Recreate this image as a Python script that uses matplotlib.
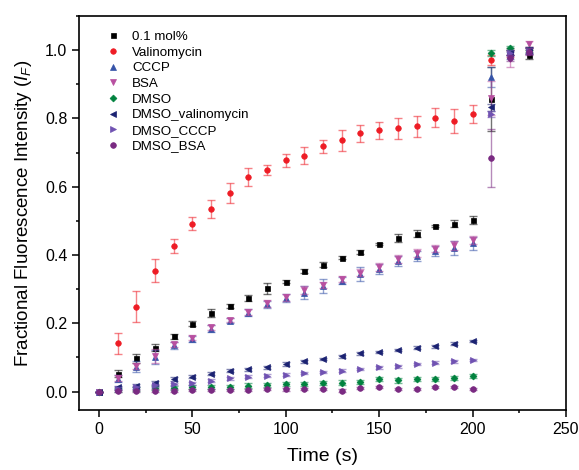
import matplotlib
matplotlib.use('Agg')
from matplotlib import pyplot as plt
from matplotlib.ticker import MultipleLocator, AutoMinorLocator

plt.rcParams['font.family'] = ['Liberation Sans', 'DejaVu Sans']
plt.rcParams['mathtext.fontset'] = 'custom'
plt.rcParams['mathtext.rm'] = 'Liberation Sans'
plt.rcParams['mathtext.it'] = 'Liberation Sans:italic'

#Sampling times (s)
time_s = [0, 10, 20, 30, 40, 50, 60, 70, 80, 90, 100, 110, 120, 130, 140,
          150, 160, 170, 180, 190, 200, 210, 220, 230]

#Fractional fluorescence intensity per condition, with errors
mol_01 = [0, 0.052, 0.097, 0.128, 0.162, 0.199, 0.230, 0.250, 0.274, 0.302, 0.322, 0.353,
          0.372, 0.392, 0.408, 0.432, 0.450, 0.462, 0.485, 0.491, 0.502, 0.857, 0.995, 0.987]
mol_01_err = [0, 0.010, 0.012, 0.010, 0.008, 0.008, 0.012, 0.006, 0.008, 0.015, 0.005, 0.007,
              0.006, 0.005, 0.006, 0.004, 0.012, 0.010, 0.004, 0.010, 0.012, 0.093, 0.010, 0.012]

valinomycin = [0, 0.141, 0.249, 0.354, 0.426, 0.491, 0.535, 0.582, 0.628, 0.649, 0.677, 0.690,
               0.718, 0.736, 0.756, 0.765, 0.771, 0.777, 0.802, 0.793, 0.813, 0.972, 0.990, 0.998]
valinomycin_err = [0, 0.030, 0.046, 0.033, 0.020, 0.019, 0.026, 0.030, 0.027, 0.015, 0.020, 0.025,
                   0.020, 0.030, 0.025, 0.025, 0.030, 0.030, 0.028, 0.035, 0.025, 0.015, 0.010, 0.010]

cccp = [0, 0.037, 0.073, 0.102, 0.136, 0.154, 0.184, 0.208, 0.231, 0.255, 0.273, 0.290,
        0.309, 0.325, 0.344, 0.358, 0.382, 0.398, 0.412, 0.420, 0.434, 0.922, 0.985, 1.000]
cccp_err = [0, 0.010, 0.015, 0.020, 0.010, 0.010, 0.010, 0.006, 0.010, 0.010, 0.012, 0.020,
            0.020, 0.010, 0.020, 0.015, 0.015, 0.015, 0.015, 0.020, 0.020, 0.030, 0.010, 0.010]

bsa = [0, 0.040, 0.075, 0.105, 0.138, 0.158, 0.188, 0.210, 0.233, 0.258, 0.276, 0.297,
       0.312, 0.330, 0.348, 0.364, 0.388, 0.405, 0.418, 0.428, 0.444, 0.859, 0.973, 1.017]
bsa_err = [0, 0.008, 0.008, 0.020, 0.008, 0.008, 0.008, 0.006, 0.008, 0.010, 0.010, 0.012,
           0.010, 0.008, 0.010, 0.012, 0.012, 0.012, 0.010, 0.012, 0.012, 0.050, 0.023, 0.010]

dmso = [0, 0.005, 0.008, 0.010, 0.011, 0.012, 0.014, 0.014, 0.017, 0.020, 0.022, 0.022,
        0.024, 0.026, 0.029, 0.036, 0.033, 0.036, 0.037, 0.040, 0.045, 0.992, 1.007, 1.000]
dmso_err = [0, 0.005, 0.005, 0.006, 0.006, 0.006, 0.006, 0.006, 0.007, 0.006, 0.006, 0.007,
            0.006, 0.007, 0.006, 0.006, 0.007, 0.006, 0.007, 0.006, 0.005, 0.008, 0.006, 0.006]

dmso_val = [0, 0.012, 0.017, 0.026, 0.037, 0.044, 0.052, 0.061, 0.065, 0.071, 0.081, 0.088,
            0.095, 0.103, 0.112, 0.116, 0.122, 0.128, 0.133, 0.140, 0.148, 0.832, 0.993, 1.000]
dmso_val_err = [0, 0.005, 0.005, 0.006, 0.005, 0.005, 0.005, 0.005, 0.005, 0.005, 0.005, 0.005,
                0.004, 0.004, 0.004, 0.004, 0.004, 0.004, 0.004, 0.004, 0.004, 0.010, 0.008, 0.008]

dmso_cccp = [0, 0.008, 0.012, 0.018, 0.022, 0.024, 0.032, 0.039, 0.043, 0.046, 0.049, 0.054,
             0.057, 0.061, 0.066, 0.071, 0.074, 0.081, 0.084, 0.089, 0.092, 0.813, 0.993, 0.998]
dmso_cccp_err = [0, 0.004, 0.004, 0.004, 0.004, 0.004, 0.004, 0.004, 0.004, 0.004, 0.004, 0.004,
                 0.004, 0.004, 0.004, 0.004, 0.004, 0.004, 0.004, 0.004, 0.004, 0.010, 0.008, 0.008]

dmso_bsa = [0, 0.002, 0.002, 0.003, 0.003, 0.004, 0.004, 0.004, 0.004, 0.007, 0.006, 0.008,
            0.007, 0.003, 0.009, 0.012, 0.008, 0.008, 0.012, 0.014, 0.007, 0.684, 0.977, 0.995]
dmso_bsa_err = [0, 0.003, 0.003, 0.003, 0.003, 0.003, 0.003, 0.003, 0.003, 0.003, 0.003, 0.003,
                0.003, 0.003, 0.003, 0.003, 0.003, 0.003, 0.003, 0.003, 0.003, 0.085, 0.010, 0.010]

series = [
    ('0.1 mol%', mol_01, mol_01_err, 's', '#000000', 3.6),
    ('Valinomycin', valinomycin, valinomycin_err, 'o', '#EE1C25', 4.0),
    ('CCCP', cccp, cccp_err, '^', '#3553A8', 4.5),
    ('BSA', bsa, bsa_err, 'v', '#B84FA0', 4.5),
    ('DMSO', dmso, dmso_err, 'D', '#00823E', 3.5),
    ('DMSO_valinomycin', dmso_val, dmso_val_err, '<', '#1B2272', 4.5),
    ('DMSO_CCCP', dmso_cccp, dmso_cccp_err, '>', '#7052B2', 4.5),
    ('DMSO_BSA', dmso_bsa, dmso_bsa_err, 'o', '#7A2A82', 4.1),
]

fig = plt.figure(figsize=(5.79, 4.70), dpi=100)
ax = fig.add_axes([0.1364, 0.1277, 0.8411, 0.8383])

for label, vals, errs, mk, col, ms in series:
    #Error bars drawn lighter than the markers
    ax.errorbar(time_s, vals, yerr=errs, fmt='none', ecolor=col, alpha=0.55,
                elinewidth=1.0, capsize=2.9, capthick=1.0)
    ax.plot(time_s, vals, ls='none', marker=mk, ms=ms, color=col,
            markeredgewidth=0.5, label=label)

ax.set_xlim(-10.7, 250)
ax.set_ylim(-0.054, 1.1)
ax.xaxis.set_major_locator(MultipleLocator(50))
ax.xaxis.set_minor_locator(AutoMinorLocator(2))
ax.yaxis.set_major_locator(MultipleLocator(0.2))
ax.yaxis.set_minor_locator(AutoMinorLocator(2))
ax.yaxis.set_major_formatter(plt.FuncFormatter(lambda v, p: f'{v:.1f}'))
ax.tick_params(which='major', direction='out', length=4.8, width=1.1, labelsize=11.5, pad=3.5)
ax.tick_params(which='minor', direction='out', length=2.5, width=1.1)
for sp in ax.spines.values():
    sp.set_linewidth(1.2)

ax.set_xlabel('Time (s)', fontsize=14, labelpad=8)
ax.set_ylabel(r'Fractional Fluorescence Intensity ($I_F$)', fontsize=13.5, labelpad=8)

ax.legend(loc='upper left', bbox_to_anchor=(0.051, 0.963), frameon=False, fontsize=9.6,
          borderaxespad=0, borderpad=0, handlelength=1.4, handletextpad=0.72,
          labelspacing=0.25, markerscale=1.0)

plt.savefig('out.png', dpi=100)
